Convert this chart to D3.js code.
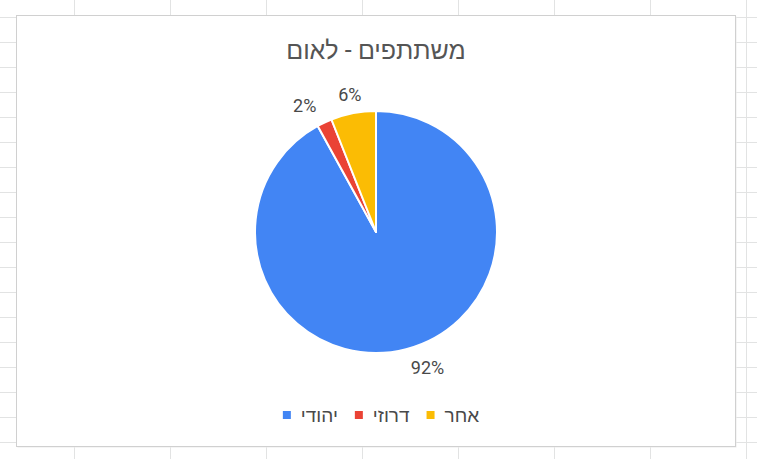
<!DOCTYPE html>
<html>
  <script src='https://d3js.org/d3.v7.min.js'></script>
  <style>
    body { margin: 0; background: #fff; }
  </style>
  <body onload='init()'>
<script>
      // ---------------------------
      // DATA
      // ---------------------------
      var categories = ["יהודי", "דרוזי", "אחר"];
      var counts = [46, 1, 3];
      var sliceColours = ["#4285f4", "#ea4335", "#fbbc04"];
      var chartTitle = "משתתפים - לאום";

      function init() {

        // ---------------------------
        // CONSTANTS
        // ---------------------------
        var canvasWidth = 757;
        var canvasHeight = 459;
        var boxLeft = 16, boxTop = 15, boxRight = 735, boxBottom = 446;
        var pieCx = 376, pieCy = 232, pieRadius = 121;
        var myFont = "Roboto, 'Liberation Sans', Arial, sans-serif";
        var textColour = "#494949";
        var gridColour = "#e2e3e3";

        var svg = d3.select("body")
          .append("svg")
          .attr("id", "pie-chart")
          .attr("width", canvasWidth)
          .attr("height", canvasHeight);

        // ---------------------------
        // SHEET GRID (background)
        // ---------------------------
        var gridX = d3.range(74, canvasWidth, 96);
        var gridY = d3.range(17, canvasHeight, 25);

        svg.append("g")
          .selectAll("line")
          .data(gridX)
          .enter()
          .append("line")
          .attr("x1", function(d) { return d + 0.5; })
          .attr("x2", function(d) { return d + 0.5; })
          .attr("y1", 0)
          .attr("y2", canvasHeight)
          .style("stroke", gridColour);

        svg.append("g")
          .selectAll("line")
          .data(gridY)
          .enter()
          .append("line")
          .attr("x1", 0)
          .attr("x2", canvasWidth)
          .attr("y1", function(d) { return d + 0.5; })
          .attr("y2", function(d) { return d + 0.5; })
          .style("stroke", gridColour);

        // chart box with a faint shadow
        svg.append("rect")
          .attr("x", boxLeft + 1.5)
          .attr("y", boxTop + 1.5)
          .attr("width", boxRight - boxLeft)
          .attr("height", boxBottom - boxTop)
          .style("fill", "#ececec");

        svg.append("rect")
          .attr("x", boxLeft + 0.5)
          .attr("y", boxTop + 0.5)
          .attr("width", boxRight - boxLeft)
          .attr("height", boxBottom - boxTop)
          .style("fill", "#ffffff")
          .style("stroke", "#d0d0d0");

        // ---------------------------
        // TITLE
        // ---------------------------
        svg.append("text")
          .attr("text-anchor", "middle")
          .attr("x", pieCx)
          .attr("y", 59)
          .attr("font-size", 25)
          .attr("font-family", myFont)
          .style("fill", "#555555")
          .text(chartTitle);

        // ---------------------------
        // PIE
        // ---------------------------
        var pie = d3.pie().sort(null).value(function(d) { return d; });
        var arcs = pie(counts);
        var arc = d3.arc().innerRadius(0).outerRadius(pieRadius);
        var labelArc = d3.arc().innerRadius(pieRadius + 19).outerRadius(pieRadius + 19);
        var total = d3.sum(counts);

        var pieGroup = svg.append("g")
          .attr("transform", "translate(" + pieCx + "," + pieCy + ")");

        pieGroup.selectAll("path")
          .data(arcs)
          .enter()
          .append("path")
          .attr("d", arc)
          .style("fill", function(d, i) { return sliceColours[i]; })
          .style("stroke", "#ffffff")
          .style("stroke-width", 2)
          .style("stroke-linejoin", "round");

        // labels sit outside; anchored on the side they point to
        function labelAnchor(d) {
          var s = Math.sin((d.startAngle + d.endAngle) / 2);
          if (s > 0.2) return "start";
          if (s < -0.2) return "end";
          return "middle";
        }

        pieGroup.selectAll("text")
          .data(arcs)
          .enter()
          .append("text")
          .attr("x", function(d) { return labelArc.centroid(d)[0]; })
          .attr("y", function(d) { return labelArc.centroid(d)[1]; })
          .attr("text-anchor", labelAnchor)
          .attr("dominant-baseline", "central")
          .attr("font-size", 18)
          .attr("font-family", myFont)
          .style("fill", textColour)
          .text(function(d) { return Math.round(d.value / total * 100) + "%"; });

        // ---------------------------
        // LEGEND
        // ---------------------------
        var legendY = 415;
        var legend = svg.append("g");
        var items = legend.selectAll("g")
          .data(categories)
          .enter()
          .append("g");

        items.append("rect")
          .attr("width", 8)
          .attr("height", 8)
          .attr("y", legendY - 4)
          .style("fill", function(d, i) { return sliceColours[i]; });

        items.append("text")
          .attr("x", 18)
          .attr("y", legendY)
          .attr("dominant-baseline", "central")
          .attr("font-size", 19)
          .attr("font-family", myFont)
          .style("fill", textColour)
          .text(function(d) { return d; });

        // place the items one after the other, then center the group
        var xPos = 0;
        items.each(function() {
          var w = d3.select(this).select("text").node().getComputedTextLength();
          d3.select(this).attr("transform", "translate(" + xPos + ",0)");
          xPos += 18 + w + 17;
        });
        var legendWidth = xPos - 17;
        legend.attr("transform", "translate(" + (381 - legendWidth / 2) + ",0)");
      }
    </script>
  </body>
</html>
